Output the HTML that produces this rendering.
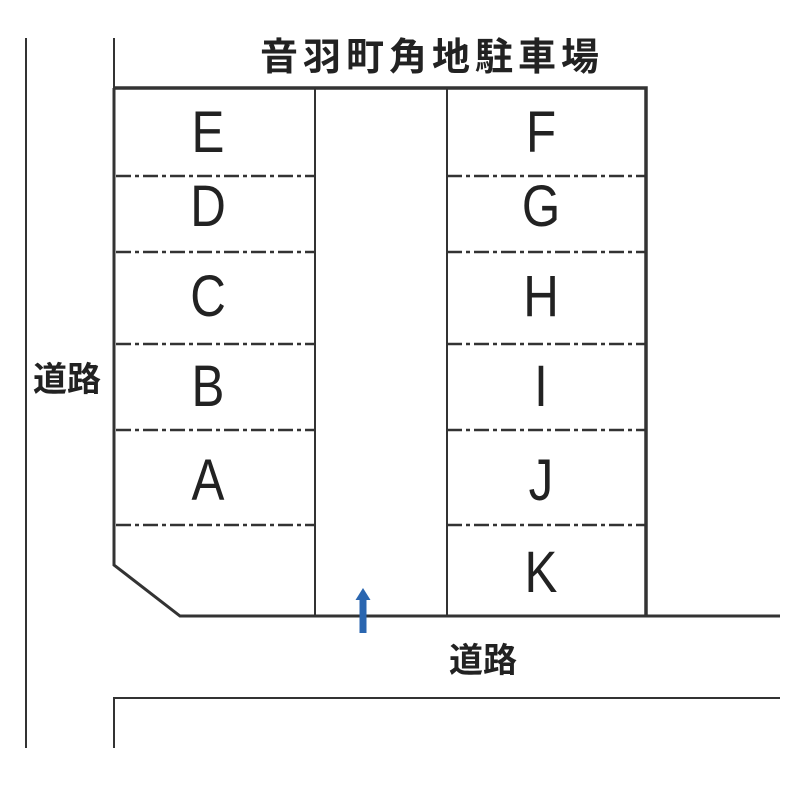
<!DOCTYPE html>
<html><head><meta charset="utf-8"><style>
html,body{margin:0;padding:0;background:#fff;}
svg{display:block;}
.l{font-family:"Liberation Sans",sans-serif;font-size:58px;fill:#222;}
.j{font-family:"Liberation Sans","Noto Sans CJK JP",sans-serif;fill:#222;}
</style></head><body>
<svg width="800" height="800" viewBox="0 0 800 800" xmlns="http://www.w3.org/2000/svg">
<g stroke="#333" fill="none">
<line x1="26" y1="38" x2="26" y2="748" stroke-width="2"/>
<line x1="114" y1="38" x2="114" y2="88" stroke-width="2"/>
<path d="M114 88 H646 V616" stroke-width="3.5"/>
<path d="M114 88 V565 L180 616 H780" stroke-width="3"/>
<line x1="315" y1="88" x2="315" y2="616" stroke-width="2"/>
<line x1="447" y1="88" x2="447" y2="616" stroke-width="2"/>
<path d="M780 698 H114 V748" stroke-width="2"/>
<g stroke-width="2.5" stroke-dasharray="15 4 4 4">
<line x1="116" y1="176" x2="315" y2="176"/>
<line x1="116" y1="252" x2="315" y2="252"/>
<line x1="116" y1="344" x2="315" y2="344"/>
<line x1="116" y1="430" x2="315" y2="430"/>
<line x1="116" y1="525" x2="315" y2="525"/>
<line x1="447" y1="176" x2="646" y2="176"/>
<line x1="447" y1="252" x2="646" y2="252"/>
<line x1="447" y1="344" x2="646" y2="344"/>
<line x1="447" y1="430" x2="646" y2="430"/>
<line x1="447" y1="525" x2="646" y2="525"/>
</g>
</g>
<path d="M359.5 600 H355.5 L363 588 L370.5 600 H366.5 V633 H359.5 Z" fill="#2a66b0"/>
<text x="432" y="70" text-anchor="middle" class="j" font-size="38" font-weight="bold" letter-spacing="5">音羽町角地駐車場</text>
<text x="67" y="391" text-anchor="middle" class="j" font-size="34" font-weight="bold">道路</text>
<text x="483" y="672" text-anchor="middle" class="j" font-size="34" font-weight="bold">道路</text>
<g class="l" text-anchor="middle">
<g transform="translate(208 0) scale(0.85 1)">
<text x="0" y="152">E</text><text x="0" y="226">D</text><text x="0" y="316">C</text><text x="0" y="406">B</text><text x="0" y="500">A</text>
</g>
<g transform="translate(541 0) scale(0.85 1)">
<text x="0" y="152">F</text><text x="0" y="226">G</text><text x="0" y="316">H</text><text x="0" y="406">I</text><text x="0" y="500">J</text><text x="0" y="592">K</text>
</g>
</g>
</svg>
</body></html>
